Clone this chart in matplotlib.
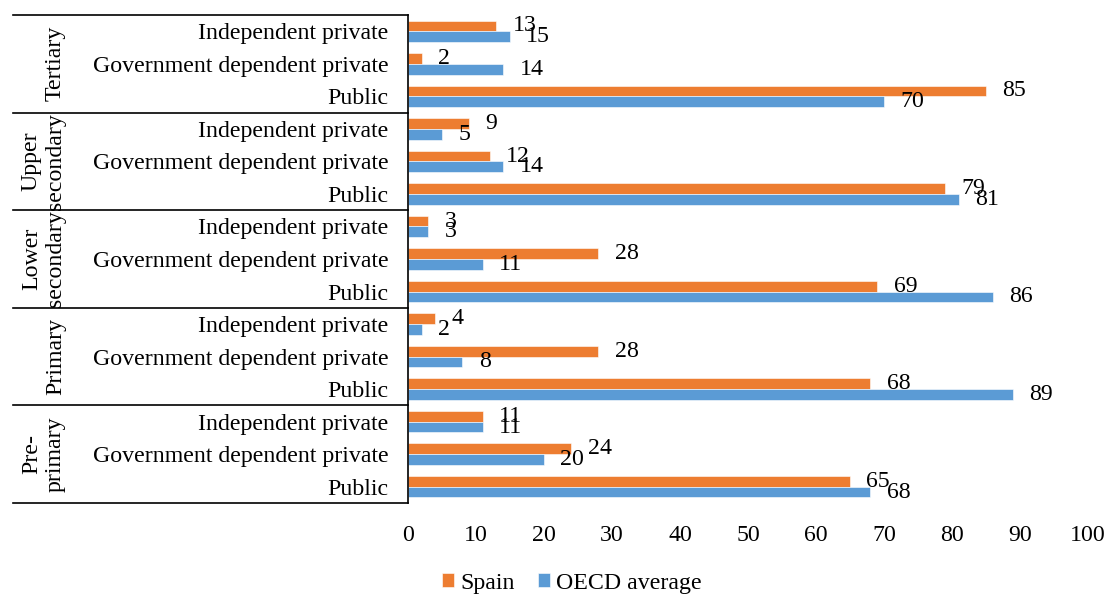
import numpy as np
import matplotlib
matplotlib.use("Agg")
import matplotlib.pyplot as plt
import matplotlib.transforms as mtransforms

plt.rcParams['font.family'] = ['Liberation Serif', 'DejaVu Serif']

# Data (top to bottom as in the chart)
levels = ["Tertiary", "Upper\nsecondary", "Lower\nsecondary", "Primary", "Pre-\nprimary"]
types = ["Independent private", "Government dependent private", "Public"]
spain = [13, 2, 85,
         9, 12, 79,
         3, 28, 69,
         4, 28, 68,
         11, 24, 65]
oecd = [15, 14, 70,
        5, 14, 81,
        3, 11, 86,
        2, 8, 89,
        11, 20, 68]
xticks = [0, 10, 20, 30, 40, 50, 60, 70, 80, 90, 100]

orange = "#ED7D31"
blue = "#5B9BD5"
fs = 17.2

W, H = 1107, 595
fig = plt.figure(figsize=(W / 100, H / 100), dpi=100)
left_px, right_px, top_px, bot_px = 408, 1088, 15, 503
ax = fig.add_axes([left_px / W, 1 - bot_px / H, (right_px - left_px) / W, (bot_px - top_px) / H])

n = len(spain)
# y positions: first item at top
y = np.arange(n)[::-1].astype(float)
h = 0.33
ax.barh(y + h / 2, spain, height=h, color=orange, edgecolor="white", linewidth=0.4, label="Spain")
ax.barh(y - h / 2, oecd, height=h, color=blue, edgecolor="white", linewidth=0.4, label="OECD average")

# data labels
for yi, s, o in zip(y, spain, oecd):
    ax.text(s + 2.4, yi + h / 2, str(s), fontsize=fs, va="center", ha="left")
    ax.text(o + 2.4, yi - h / 2, str(o), fontsize=fs, va="center", ha="left")

ax.set_xlim(0, 100)
ax.set_ylim(-0.5, n - 0.5)
ax.set_xticks(xticks)
ax.set_xticklabels([str(t) for t in xticks], fontsize=fs)
ax.set_yticks(y)
ax.set_yticklabels(types * len(levels), fontsize=fs)
ax.tick_params(axis="x", length=0, pad=16)
ax.tick_params(axis="y", length=0, pad=14)

for side in ["top", "right", "bottom"]:
    ax.spines[side].set_visible(False)
ax.spines["left"].set_color("black")
ax.spines["left"].set_linewidth(1.2)

# multi-level category box
trans = mtransforms.blended_transform_factory(ax.transAxes, ax.transData)
x0 = (13 - left_px) / (right_px - left_px)
for k in range(len(levels) + 1):
    yb = n - 0.5 - 3 * k
    ax.plot([x0, 0], [yb, yb], transform=trans, color="black", lw=1.2, clip_on=False)

xg = (66 - left_px) / (right_px - left_px)
for k, lvl in enumerate(levels):
    yc = n - 1 - 3 * k - 1
    ax.text(xg, yc, lvl, transform=trans, rotation=90, ha="right", va="center",
            multialignment="center", fontsize=fs)

leg = fig.legend(loc="center", bbox_to_anchor=(572 / W, 1 - 583 / H), ncol=2, frameon=False,
                 fontsize=fs, handlelength=0.5, handleheight=0.5, handletextpad=0.25,
                 columnspacing=1.0)

fig.savefig("out.png", dpi=100)
